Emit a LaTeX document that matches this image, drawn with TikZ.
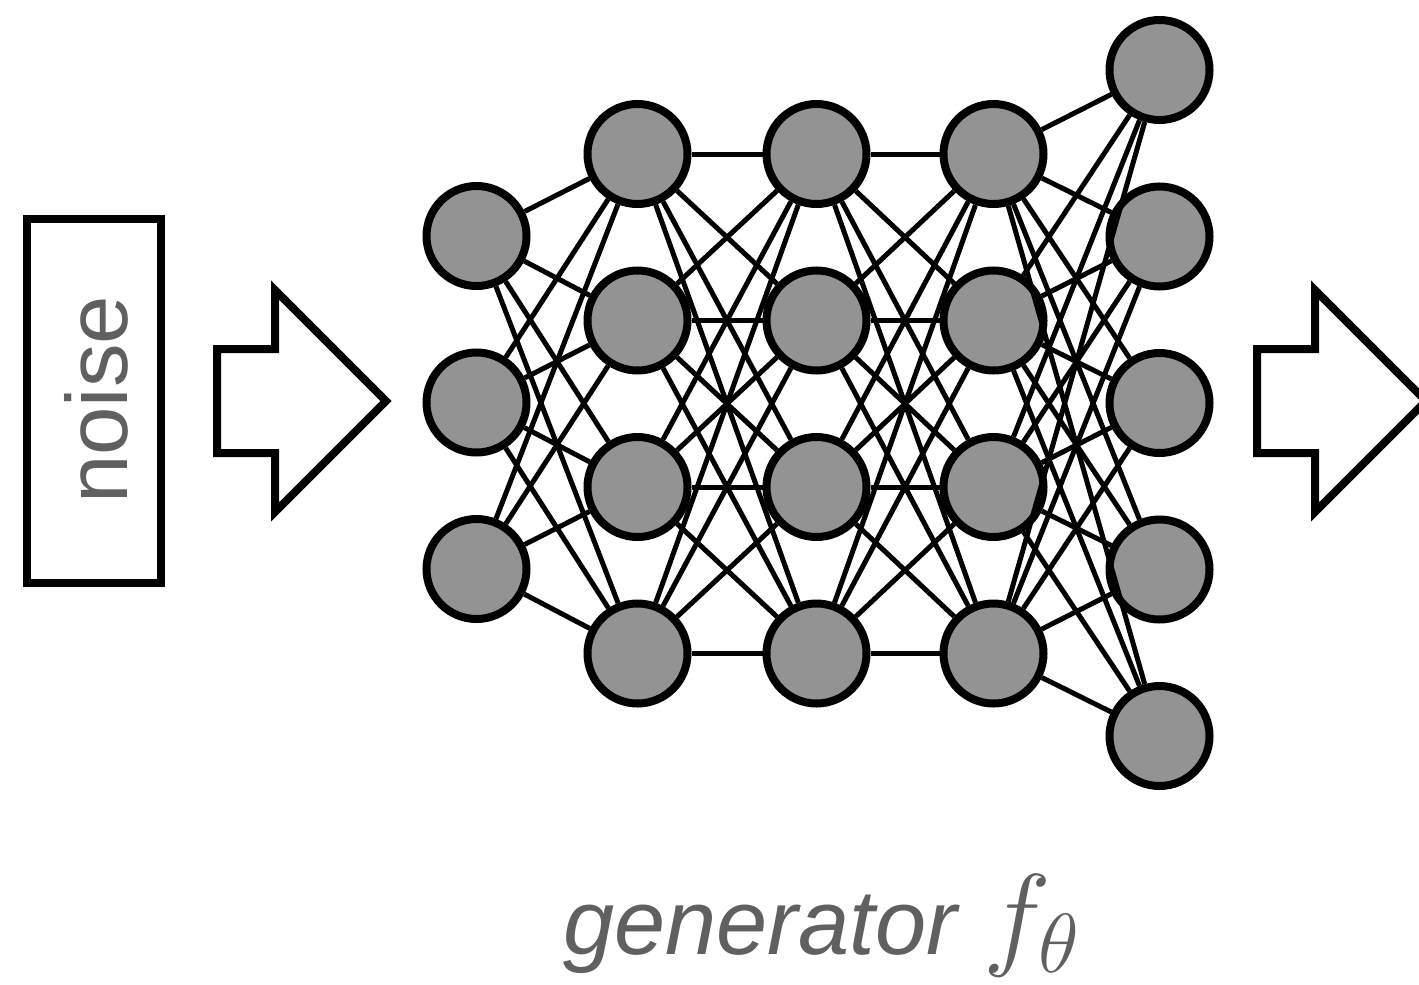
\RequirePackage{fix-cm}
\documentclass[tikz,border=0pt]{standalone}
\usepackage{fontspec}
\newfontfamily\hv{Liberation Sans}
\DeclareMathSizes{115}{115}{84}{60}
\definecolor{unitgray}{HTML}{939393}
\definecolor{labelgray}{HTML}{606060}
\tikzset{
  unit/.style={circle, draw=black, fill=unitgray, line width=8pt,
               minimum size=100pt, inner sep=0pt},
  link/.style={line width=5pt, black},
  blockarrow/.style={draw=black, line width=8pt, fill=white, miter limit=20},
  frame/.style={draw=black, line width=8pt}
}
\begin{document}
\begin{tikzpicture}[x=1pt, y=-1pt]
\useasboundingbox (0,0) rectangle (1419,985);
\clip (0,0) rectangle (1419,985);

% input box
\draw[frame] (27,219) rectangle (161,583);
\node[rotate=90, anchor=base, inner sep=0pt, text=labelgray]
  (noise) at (127,400) {\hv\fontsize{87}{100}\selectfont noise};

% block arrows
\draw[blockarrow] (217,349) -- (275,349) -- (275,290) -- (386,401)
  -- (275,512) -- (275,453) -- (217,453) -- cycle;
\draw[blockarrow] (1257,349) -- (1315,349) -- (1315,290) -- (1426,401)
  -- (1315,512) -- (1315,453) -- (1257,453) -- cycle;

% units
\foreach \y [count=\i] in {236,402.5,569}
  \node[unit] (a\i) at (476.5,\y) {};
\foreach \y [count=\i] in {154,320.5,487,653.5} {
  \node[unit] (b\i) at (637.5,\y) {};
  \node[unit] (c\i) at (816.5,\y) {};
  \node[unit] (d\i) at (993.5,\y) {};
}
\foreach \y [count=\i] in {70,236.5,403,569.5,736}
  \node[unit] (e\i) at (1159.5,\y) {};

% fully connected links
\foreach \i in {1,...,3}
  \foreach \j in {1,...,4}
    \draw[link] (a\i) -- (b\j);
\foreach \i in {1,...,4}
  \foreach \j in {1,...,4} {
    \draw[link] (b\i) -- (c\j);
    \draw[link] (c\i) -- (d\j);
  }
\foreach \i in {1,...,4}
  \foreach \j in {1,...,5}
    \draw[link] (d\i) -- (e\j);

% caption
\node[anchor=base west, inner sep=0pt, text=labelgray] (cap) at (563,954)
  {\hv\itshape\fontsize{92}{100}\selectfont generator\hspace{26pt}%
   \fontsize{115}{130}\selectfont$f_\theta$};
\end{tikzpicture}
\end{document}
